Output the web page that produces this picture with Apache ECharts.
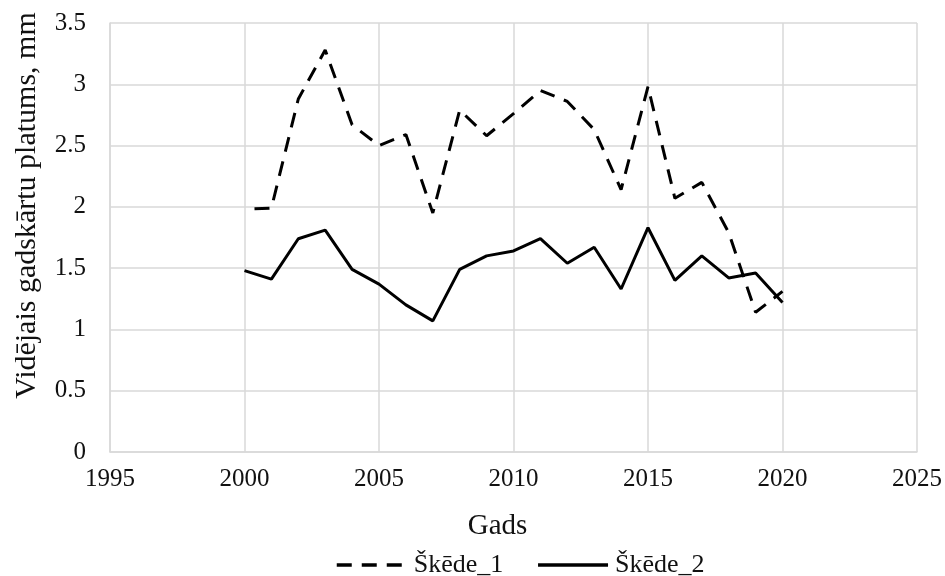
<!DOCTYPE html>
<html>
<head>
<meta charset="utf-8">
<script src="https://cdn.jsdelivr.net/npm/echarts@6/dist/echarts.min.js"></script>
<style>
html,body{margin:0;padding:0;background:#fff;}
#chart{width:945px;height:576px;}
</style>
</head>
<body>
<div id="chart"></div>
<script>
var years = [2000,2001,2002,2003,2004,2005,2006,2007,2008,2009,2010,2011,2012,2013,2014,2015,2016,2017,2018,2019,2020];
var skede1 = [1.98,1.99,2.88,3.28,2.67,2.50,2.59,1.95,2.79,2.58,2.76,2.95,2.86,2.63,2.14,2.98,2.07,2.20,1.79,1.14,1.31];
var skede2 = [1.48,1.41,1.74,1.81,1.49,1.37,1.20,1.07,1.49,1.60,1.64,1.74,1.54,1.67,1.33,1.83,1.40,1.60,1.42,1.46,1.22];
var seriesNames = ['Škēde_1','Škēde_2'];
var xTitle = 'Gads';
var yTitle = 'Vidējais gadskārtu platums, mm';

function pairs(vals){ return years.map(function(y,i){ return [y, vals[i]]; }); }

var font = 'Liberation Serif';
var chart = echarts.init(document.getElementById('chart'), null, {renderer:'canvas'});
chart.setOption({
  animation:false,
  backgroundColor:'#fff',
  grid:{left:110,right:28,top:23,bottom:124,containLabel:false},
  xAxis:{
    type:'value',min:1995,max:2025,interval:5,
    name:xTitle,nameLocation:'middle',nameGap:60,
    nameTextStyle:{fontFamily:font,fontSize:29,color:'#111',padding:[0,32,0,0]},
    axisLine:{show:true,lineStyle:{color:'#d9d9d9',width:1.5}},
    axisTick:{show:false},
    axisLabel:{fontFamily:font,fontSize:25,color:'#111',margin:15,formatter:function(v){return String(v);}},
    splitLine:{show:true,lineStyle:{color:'#d9d9d9',width:1.5}}
  },
  yAxis:{
    type:'value',min:0,max:3.5,interval:0.5,
    name:yTitle,nameLocation:'middle',nameGap:68,
    nameTextStyle:{fontFamily:font,fontSize:30,color:'#111',padding:[0,0,0,64]},
    axisLine:{show:true,lineStyle:{color:'#d9d9d9',width:1.5}},
    axisTick:{show:false},
    axisLabel:{fontFamily:font,fontSize:25,color:'#111',margin:24},
    splitLine:{show:true,lineStyle:{color:'#d9d9d9',width:1.5}}
  },
  legend:{
    top:547,left:330,
    itemWidth:70,itemHeight:3,itemGap:33,
    lineStyle:{dashOffset:0,width:3.5},
    itemStyle:{opacity:0},
    textStyle:{fontFamily:font,fontSize:26,color:'#111',padding:[0,0,0,2]},
    data:seriesNames
  },
  series:[
    {name:seriesNames[0],type:'line',data:pairs(skede1),showSymbol:false,symbol:'none',
     lineStyle:{color:'#000',width:3,type:[15,10],dashOffset:15},itemStyle:{color:'#000'}},
    {name:seriesNames[1],type:'line',data:pairs(skede2),showSymbol:false,symbol:'none',
     lineStyle:{color:'#000',width:3,type:'solid'},itemStyle:{color:'#000'}}
  ]
});
</script>
</body>
</html>
